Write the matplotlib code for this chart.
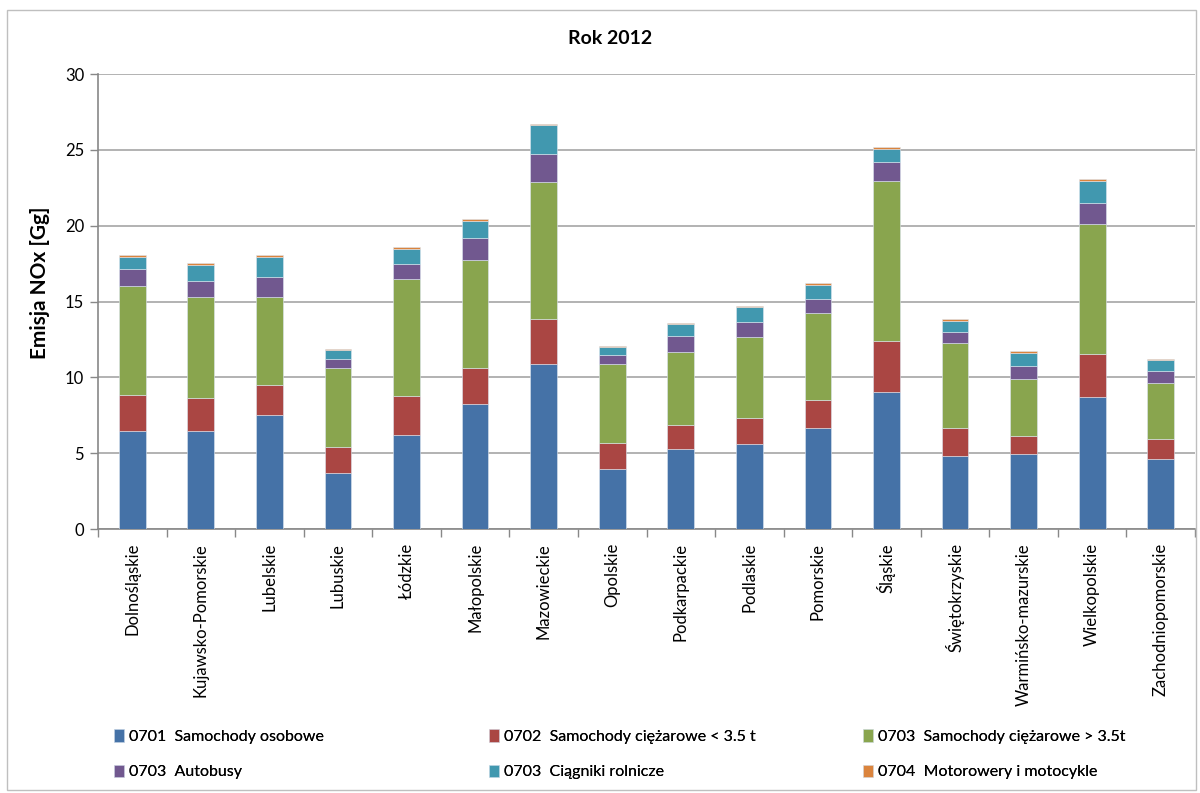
import matplotlib
matplotlib.use("Agg")
import matplotlib.pyplot as plt
import numpy as np
from matplotlib.patches import Rectangle

categories = ["Dolnośląskie", "Kujawsko-Pomorskie", "Lubelskie", "Lubuskie", "Łódzkie",
              "Małopolskie", "Mazowieckie", "Opolskie", "Podkarpackie", "Podlaskie",
              "Pomorskie", "Śląskie", "Świętokrzyskie", "Warmińsko-mazurskie",
              "Wielkopolskie", "Zachodniopomorskie"]

osobowe = [6.46, 6.46, 7.54, 3.69, 6.22, 8.26, 10.88, 3.93, 5.25, 5.58, 6.66, 9.01, 4.84, 4.92, 8.68, 4.59]
ciez_lt = [2.38, 2.16, 1.95, 1.74, 2.55, 2.38, 2.94, 1.72, 1.63, 1.72, 1.87, 3.41, 1.80, 1.23, 2.86, 1.32]
ciez_gt = [7.18, 6.68, 5.81, 5.21, 7.74, 7.10, 9.04, 5.23, 4.81, 5.38, 5.69, 10.53, 5.62, 3.76, 8.57, 3.74]
autobusy = [1.12, 1.05, 1.29, 0.57, 0.98, 1.47, 1.89, 0.57, 1.06, 0.97, 0.97, 1.23, 0.75, 0.82, 1.38, 0.75]
ciagniki = [0.82, 1.06, 1.37, 0.57, 0.99, 1.12, 1.87, 0.53, 0.74, 0.99, 0.90, 0.87, 0.73, 0.90, 1.48, 0.74]
motory = [0.09, 0.11, 0.08, 0.09, 0.09, 0.09, 0.09, 0.09, 0.09, 0.09, 0.11, 0.11, 0.08, 0.08, 0.11, 0.09]

series_labels = ["0701  Samochody osobowe", "0702  Samochody ciężarowe < 3.5 t",
                 "0703  Samochody ciężarowe > 3.5t", "0703  Autobusy",
                 "0703  Ciągniki rolnicze", "0704  Motorowery i motocykle"]
series = [osobowe, ciez_lt, ciez_gt, autobusy, ciagniki, motory]
colors = ["#4572A7", "#AA4643", "#89A54E", "#71588F", "#4198AF", "#DB843D"]

yticks = [0, 5, 10, 15, 20, 25, 30]

plt.rcParams['font.family'] = ['Lato', 'DejaVu Sans']

fig = plt.figure(figsize=(12, 7.93), dpi=100)
ax = fig.add_axes([98/1200, 1-529/793, (1195-98)/1200, (529-74)/793])

x = np.arange(len(categories))
bottom = np.zeros(len(categories))
handles = []
for vals, col, lab in zip(series, colors, series_labels):
    b = ax.bar(x, vals, bottom=bottom, width=0.39, color=col, label=lab,
               edgecolor='#dde6f0', linewidth=0.4, zorder=3)
    handles.append(b)
    bottom += np.array(vals)

ax.set_xlim(-0.5, len(categories) - 0.5)
ax.set_ylim(0, 30)
ax.set_yticks(yticks)
ax.set_yticklabels([str(t) for t in yticks], fontsize=12)
ax.yaxis.grid(True, color='#a6a6a6', linewidth=1.2, zorder=0)
ax.set_axisbelow(True)

ax.set_xticks(x)
ax.set_xticklabels(categories, rotation=90, fontsize=12)
ax.set_xticks(np.arange(-0.5, len(categories)), minor=True)
ax.tick_params(axis='x', which='major', length=0, pad=10)
ax.tick_params(axis='x', which='minor', length=6, color='#888888', width=1)
ax.tick_params(axis='y', length=6, color='#888888', width=1, pad=4)

for s in ['top', 'right']:
    ax.spines[s].set_visible(False)
for s in ['left', 'bottom']:
    ax.spines[s].set_color('#888888')
    ax.spines[s].set_linewidth(1.2)

fig.text(610/1200, 1 - 38/793, "Rok 2012", fontsize=14, fontweight='bold',
         ha='center', va='center')
ax.set_ylabel("Emisja NOx [Gg]", fontsize=15, fontweight='bold')
ax.yaxis.set_label_coords(-(98 - 40)/1097, (529 - 283)/455)
ax.yaxis.label.set_va('center')

# legend: three columns, two rows each
col_x = [108/1200, 483/1200, 857/1200]
for i in range(3):
    hs = [handles[i], handles[i + 3]]
    leg = fig.legend(hs, [series_labels[i], series_labels[i + 3]],
                     loc='upper left', bbox_to_anchor=(col_x[i], 1 - 723/793),
                     frameon=False, fontsize=11.5, handlelength=0.6, handleheight=0.8,
                     handletextpad=0.3, labelspacing=1.3, borderaxespad=0)
    fig.add_artist(leg)

fig.patches.append(Rectangle((7/1200, 3/793), 1189/1200, 780/793, transform=fig.transFigure,
                             fill=False, edgecolor='#bfbfbf', linewidth=1))

fig.savefig("out.png", dpi=100)
